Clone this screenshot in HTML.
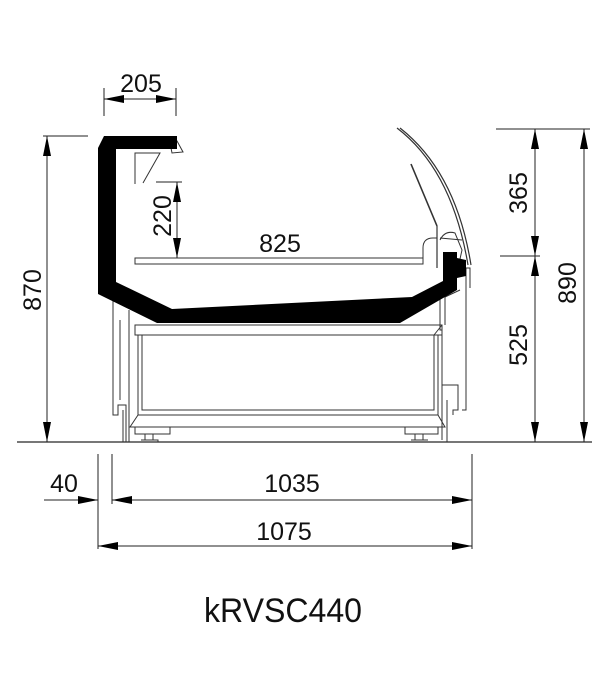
<!DOCTYPE html>
<html><head><meta charset="utf-8"><style>
html,body{margin:0;padding:0;background:#fff;width:600px;height:700px;overflow:hidden}
svg{display:block}
text{font-family:"Liberation Sans",Arial,sans-serif;fill:#111}
</style></head><body>
<svg width="600" height="700" viewBox="0 0 600 700" xmlns="http://www.w3.org/2000/svg">
<defs>
<marker id="a" viewBox="0 0 20 8" refX="20" refY="4" markerWidth="20" markerHeight="8" markerUnits="userSpaceOnUse" orient="auto-start-reverse">
<path d="M0,0 L20,4 L0,8 Z" fill="#000"/></marker>
</defs>
<line x1="17" y1="442" x2="592" y2="442" stroke="#777" stroke-width="2"/>
<g stroke="#333" stroke-width="1" fill="none">
<path d="M113,300 L113,415 L118,415 L118,405 L126,405 L126,442"/>
<path d="M120,320 L120,400"/>
<path d="M123,410 L123,442"/>
<path d="M129,310 L129,442"/>
<rect x="135" y="325" width="307" height="10"/>
<path d="M138,335 L138,415 L438,415 L438,335"/>
<path d="M142,335 L142,410 L434,410 L434,335"/>
<path d="M138,415 L130,427 L445,427 L438,415"/>
<path d="M434,335 L442,325"/>
<path d="M135,427 L135,434 L170,434 L170,427"/>
<path d="M145,434 L145,440 M153,434 L153,440 M141,440 L158,440 L158,442"/>
<path d="M405,427 L405,434 L438,434 L438,427"/>
<path d="M415,434 L415,440 M423,434 L423,440 M411,440 L428,440"/>
<path d="M440,290 L440,330 L442,330"/>
<path d="M442,330 L442,440 M447,400 L447,442"/>
<path d="M442,385 L458,385 L458,410 L453,410 L453,415"/>
<path d="M466,268 L466,410 L462,410"/>
<path d="M460,290 L445,297 L445,325"/>
<path d="M135,258 L423,258 L423,264 L135,264 Z"/>
<path d="M423,258 L423,248 Q423,238 433,238 L437,238"/>
<path d="M135,184 L135,153 L160,153 L143,183"/>
<path d="M170,143 L177,141 L183,152 L172,153 Z"/>
<path d="M397,128 Q452,170 468,265" stroke-width="1.2"/>
<path d="M400,128 Q456,172 471,265" stroke-width="1.2"/>
<line x1="411" y1="164" x2="437" y2="226" stroke-width="1.6"/>
<line x1="437" y1="226" x2="437" y2="268" stroke-width="1.2"/>
<path d="M440,240 Q445,230 455,233 L462,250 L458,268 L470,268 L470,288"/>
<path d="M440,238 L462,240"/>
</g>
<path fill="#000" d="M104,136 L177,136 L177,149 L116,149 L116,282 L172,309 L412,297 L443,281 L443,252 L457,252 L457,290 L400,323 L157,323 L98,294 L98,148 Z"/>
<path fill="#000" d="M457,258 L466,260 L466,276 L457,278 Z"/>
<g stroke="#222" stroke-width="1" fill="none">
<line x1="104" y1="88" x2="104" y2="116"/><line x1="176" y1="88" x2="176" y2="116"/>
<line x1="104" y1="99" x2="176" y2="99" marker-start="url(#a)" marker-end="url(#a)"/>
<line x1="156" y1="182" x2="182" y2="182"/>
<line x1="177" y1="182" x2="177" y2="258" marker-start="url(#a)" marker-end="url(#a)"/>
<line x1="43" y1="136" x2="88" y2="136"/>
<line x1="47" y1="136" x2="47" y2="442" marker-start="url(#a)" marker-end="url(#a)"/>
<line x1="496" y1="129" x2="590" y2="129"/>
<line x1="500" y1="256" x2="540" y2="256"/>
<line x1="535" y1="129" x2="535" y2="256" marker-start="url(#a)" marker-end="url(#a)"/>
<line x1="535" y1="256" x2="535" y2="442" marker-start="url(#a)" marker-end="url(#a)"/>
<line x1="584" y1="129" x2="584" y2="442" marker-start="url(#a)" marker-end="url(#a)"/>
<line x1="98" y1="454" x2="98" y2="549"/>
<line x1="112" y1="454" x2="112" y2="504"/>
<line x1="472" y1="454" x2="472" y2="549"/>
<line x1="44" y1="500" x2="98" y2="500" marker-end="url(#a)"/>
<line x1="112" y1="500" x2="472" y2="500" marker-start="url(#a)" marker-end="url(#a)"/>
<line x1="98" y1="546" x2="472" y2="546" marker-start="url(#a)" marker-end="url(#a)"/>
</g>
<g font-size="25">
<text x="141" y="92" text-anchor="middle">205</text>
<text x="280" y="252" text-anchor="middle">825</text>
<text x="64" y="492" text-anchor="middle">40</text>
<text x="292" y="492" text-anchor="middle">1035</text>
<text x="284" y="540" text-anchor="middle">1075</text>
<text transform="translate(171,216) rotate(-90)" text-anchor="middle">220</text>
<text transform="translate(41,290) rotate(-90)" text-anchor="middle">870</text>
<text transform="translate(527,193) rotate(-90)" text-anchor="middle">365</text>
<text transform="translate(527,345) rotate(-90)" text-anchor="middle">525</text>
<text transform="translate(576,283) rotate(-90)" text-anchor="middle">890</text>
</g>
<text x="204" y="622" font-size="34" textLength="158" lengthAdjust="spacingAndGlyphs">kRVSC440</text>
</svg>
</body></html>
